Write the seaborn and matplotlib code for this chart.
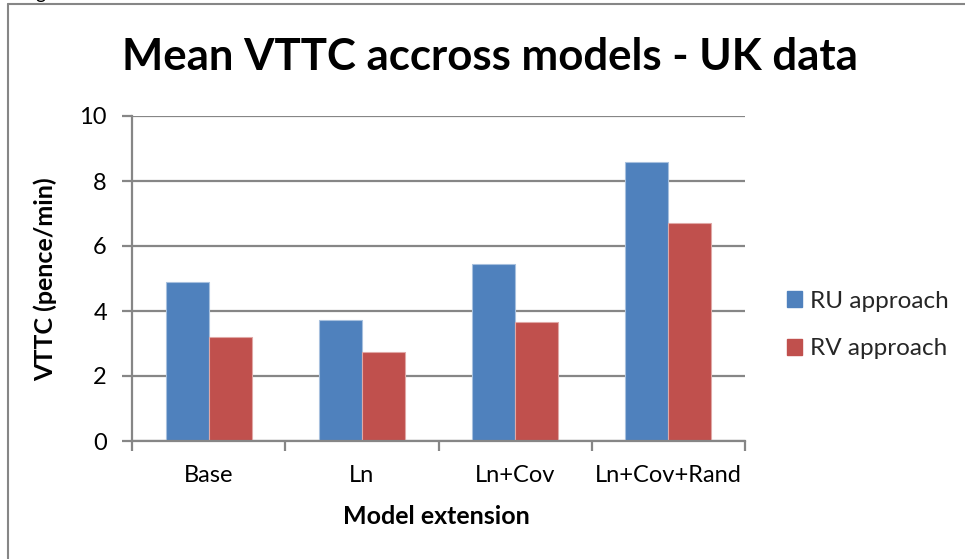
import matplotlib
matplotlib.use("Agg")
import matplotlib.pyplot as plt
from matplotlib.lines import Line2D
from matplotlib.patches import Patch
import seaborn as sns
import pandas as pd

categories = ["Base", "Ln", "Ln+Cov", "Ln+Cov+Rand"]
ru_values = [4.88, 3.71, 5.46, 8.59]
rv_values = [3.21, 2.75, 3.67, 6.72]
series_names = ["RU approach", "RV approach"]
y_ticks = [0, 2, 4, 6, 8, 10]
title = "Mean VTTC accross models - UK data"
x_label = "Model extension"
y_label = "VTTC (pence/min)"

colors = ["#4F81BD", "#C0504D"]
edge_colors = ["#A7C0DE", "#E0A8A6"]

df = pd.DataFrame({
    "cat": categories * 2,
    "val": ru_values + rv_values,
    "series": [series_names[0]] * len(categories) + [series_names[1]] * len(categories),
})

sns.set_theme(style="white")
FONT = ["Lato", "DejaVu Sans"]
plt.rcParams["font.family"] = FONT

W, H = 965, 559
fig = plt.figure(figsize=(W / 100, H / 100), dpi=100)
ax = fig.add_axes([132 / W, 1 - 441 / H, (745 - 132) / W, (441 - 116) / H])

sns.barplot(data=df, x="cat", y="val", hue="series", palette=colors,
            width=0.56, gap=0, ax=ax, legend=False, saturation=1)
for i, cont in enumerate(ax.containers):
    for p in cont.patches:
        p.set_edgecolor(edge_colors[i])
        p.set_linewidth(0.8)
        p.set_zorder(3)

grid_c = "#868686"
ax.set_ylim(0, 10)
ax.set_xlim(-0.5, len(categories) - 0.5)
ax.set_yticks(y_ticks)
ax.yaxis.grid(True, color=grid_c, linewidth=1.6)
ax.set_axisbelow(True)
for s in ["top", "right"]:
    ax.spines[s].set_visible(False)
for s in ["left", "bottom"]:
    ax.spines[s].set_color(grid_c)
    ax.spines[s].set_linewidth(1.6)
    ax.spines[s].set_zorder(4)

TICK_FS = 17
ax.set_xticks(range(len(categories)))
ax.set_xticklabels(categories)
ax.set_xticks([i - 0.5 for i in range(len(categories) + 1)], minor=True)
ax.tick_params(axis="x", which="major", length=0, pad=17, labelsize=TICK_FS, colors="black")
ax.tick_params(axis="x", which="minor", length=7, width=1.6, color=grid_c, direction="out", bottom=True)
ax.tick_params(axis="y", which="major", length=7, width=1.6, color=grid_c, direction="out",
               left=True, pad=11, labelsize=TICK_FS, labelcolor="black")

ax.set_xlabel(x_label, fontsize=18, fontweight="bold", color="black", va="center")
ax.xaxis.set_label_coords(0.4965, (441 - 516) / 325)
ax.set_ylabel(y_label, fontsize=18, fontweight="bold", color="black", va="center")
ax.yaxis.set_label_coords((45 - 132) / 613, (441 - 279) / 325)

fig.text(490 / W, 1 - 57 / H, title, ha="center", va="center", fontsize=31.5,
         fontweight="bold", color="black")

handles = [Patch(facecolor=colors[i], edgecolor=colors[i]) for i in range(2)]
fig.legend(handles, series_names, loc="center left",
           bbox_to_anchor=(787 / W, 1 - 325 / H), frameon=False, fontsize=17.5,
           borderpad=0, borderaxespad=0,
           handlelength=0.63, handleheight=0.63, handletextpad=0.3, labelspacing=1.08)

# outer frame (partial)
fig.add_artist(Line2D([8 / W, 1.0], [1 - 4 / H, 1 - 4 / H], transform=fig.transFigure,
                      color=grid_c, linewidth=1.5))
fig.add_artist(Line2D([8 / W, 8 / W], [0, 1 - 4 / H], transform=fig.transFigure,
                      color=grid_c, linewidth=1.5))
fig.text(40 / W, 1 + 1.5 / H, "g", ha="center", va="baseline", fontsize=14, color="black")

fig.savefig("out.png", dpi=100)
